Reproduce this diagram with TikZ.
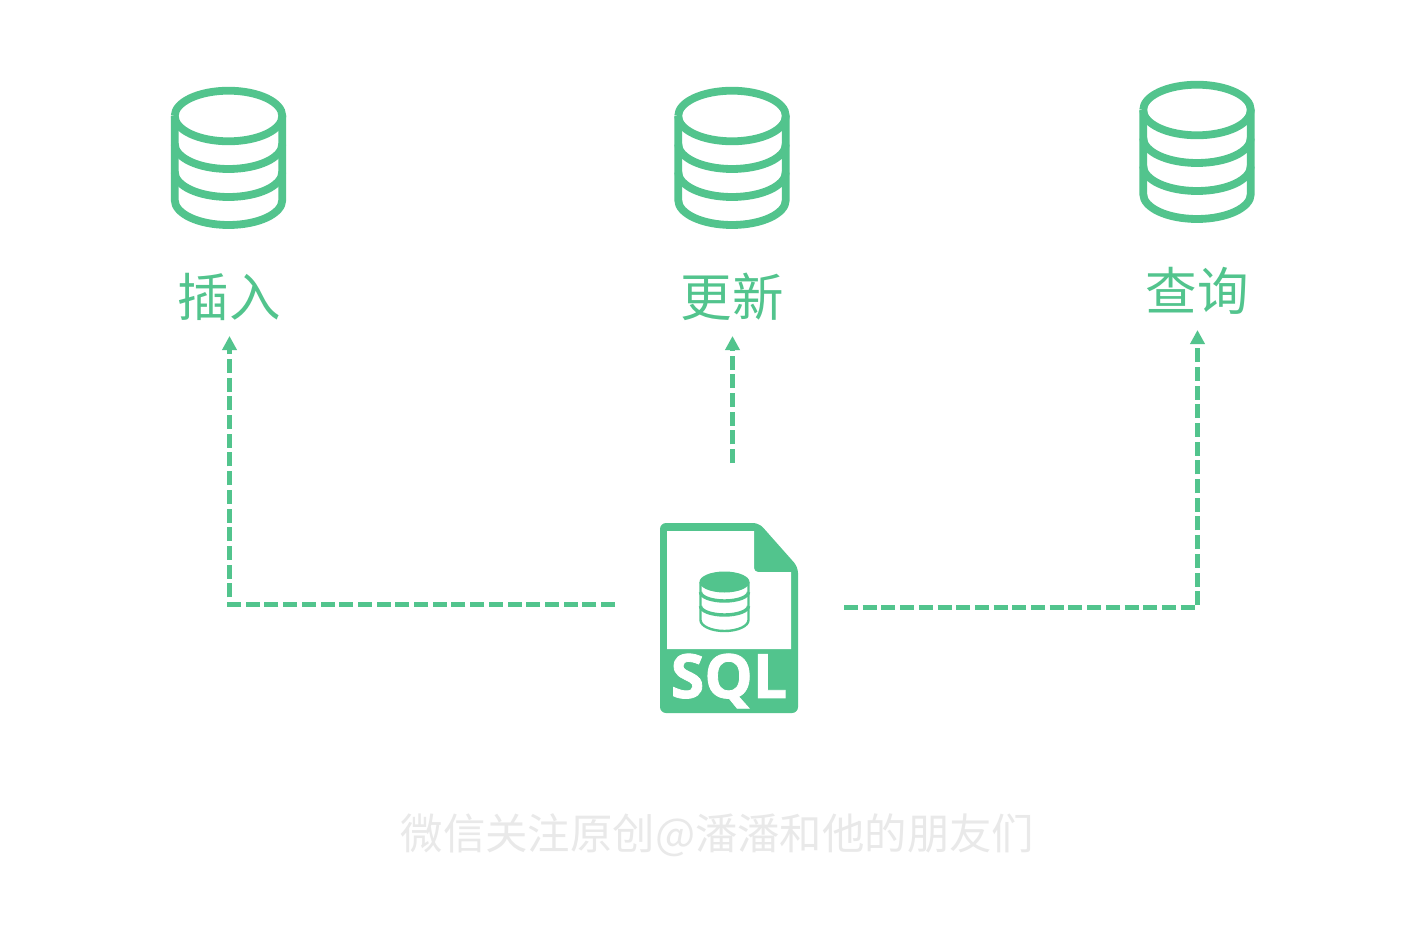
\documentclass[tikz,border=0pt]{standalone}
\usepackage{fontspec}
\usetikzlibrary{arrows.meta}
\newfontfamily\cjk{Noto Sans CJK SC}
\newfontfamily\sqlfont[FakeBold=1.3]{Open Sans Bold}
\definecolor{grn}{HTML}{52C48D}
\definecolor{wm}{HTML}{E9E9E9}
\tikzset{
  x=1pt,y=-1pt,
  flow/.style={draw=grn,line width=5pt,miter limit=10,dash pattern=on 14pt off 4.7pt,-{Triangle[length=14pt,width=14pt,fill=grn,sep=0pt]}},
  lbl/.style={text=grn,font=\cjk\fontsize{51.5}{52}\selectfont,inner sep=0pt,anchor=center},
  dbicon/.pic={
    \draw[grn,line width=7.8pt] (-53.8,0) arc[start angle=180,end angle=-180,x radius=53.8,y radius=25.3];
    \draw[grn,line width=7.8pt] (-53.8,0) -- (-53.8,84) arc[start angle=180,end angle=0,x radius=53.8,y radius=25] -- (53.8,0);
    \draw[grn,line width=7.8pt] (-53.8,28) arc[start angle=180,end angle=0,x radius=53.8,y radius=25];
    \draw[grn,line width=7.8pt] (-53.8,56) arc[start angle=180,end angle=0,x radius=53.8,y radius=25];
  }
}
\begin{document}
\begin{tikzpicture}
\useasboundingbox (0,0) rectangle (1425,928);
\fill[white] (0,0) rectangle (1425,928);
% icons
\pic at (228.5,116) {dbicon};
\pic at (732,116) {dbicon};
\pic at (1197,110) {dbicon};
% labels
\node[lbl] (ins) at (229,297) {插入};
\node[lbl] (upd) at (732,297) {更新};
\node[lbl] (qry) at (1197,291) {查询};
% file icon
\fill[grn,rounded corners=6pt] (660,713) -- (660,523) -- (759,523) -- (798,567) -- (798,713) -- cycle;
\fill[white] (667,649) -- (667,531) -- (754,531) -- (754,568) arc[start angle=180,end angle=90,radius=4] -- (791,572) -- (791,649) -- cycle;
\fill[grn] (699.5,582) arc[start angle=180,end angle=-180,x radius=25,y radius=10.5];
\draw[grn,line width=2.4pt] (700.5,582) -- (700.5,620) arc[start angle=180,end angle=0,x radius=24,y radius=11] -- (748.5,582);
\draw[grn,line width=3.4pt] (700.5,592) arc[start angle=180,end angle=0,x radius=24,y radius=9];
\draw[grn,line width=3.4pt] (700.5,606) arc[start angle=180,end angle=0,x radius=24,y radius=9];
\node[inner sep=0pt,text=white,font=\sqlfont\fontsize{61}{61}\selectfont] (sql) at (729,681) {SQL};
% connector anchors
\coordinate (ls) at (615,604.5);
\coordinate (ms) at (732.5,463);
\coordinate (rs) at (844,607);
\coordinate (le) at (229.5,336);
\coordinate (me) at (732.5,336);
\coordinate (re) at (1197.5,330);
\draw[flow] (ls) -| (le);
\draw[flow] (ms) -- (me);
\draw[flow] (rs) -| (re);
% watermark
\node[inner sep=0pt,text=wm,font=\cjk\fontsize{42.4}{43}\selectfont] (wmk) at (717.5,835) {微信关注原创@潘潘和他的朋友们};
\end{tikzpicture}
\end{document}
